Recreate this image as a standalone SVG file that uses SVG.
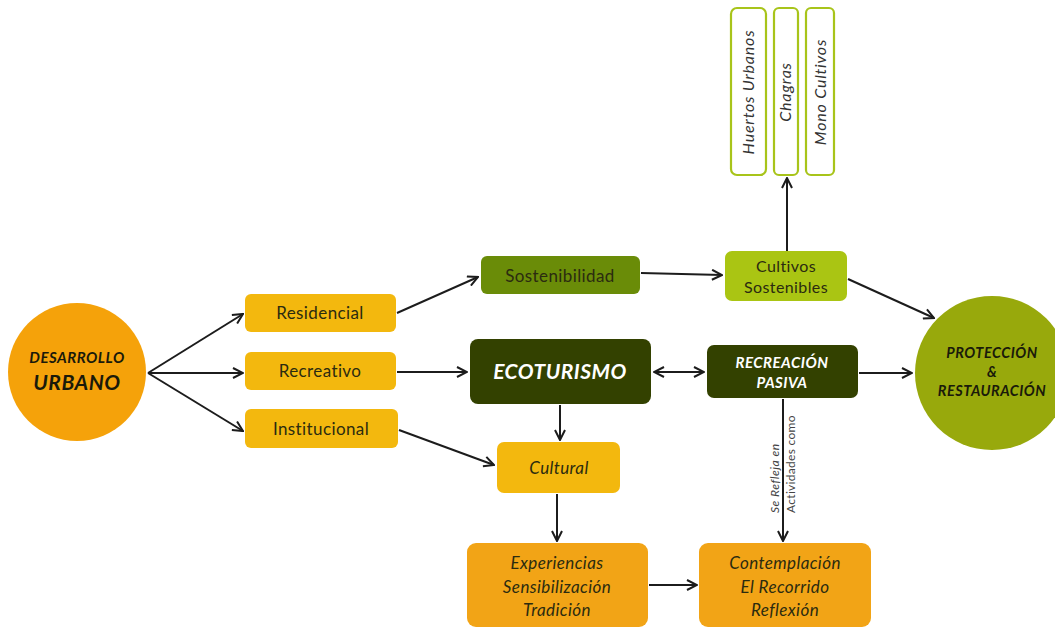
<svg xmlns="http://www.w3.org/2000/svg" width="1055" height="628" viewBox="0 0 1055 628">
<style>
.t{font-family:Lato,"Open Sans",sans-serif;fill:#2b2b10;text-anchor:middle;letter-spacing:0.4px}
.yb{fill:#F3B80E}
.ob{fill:#F2A416}
.dk{fill:#334100}
.wt{font-family:Lato,"Open Sans",sans-serif;fill:#ffffff;font-weight:bold;font-style:italic;text-anchor:middle;letter-spacing:0.5px}
.bt{font-family:Lato,"Open Sans",sans-serif;fill:#1a1a0a;font-weight:bold;font-style:italic;text-anchor:middle;letter-spacing:0.5px}
.vb{fill:#ffffff;stroke:#A8C41A;stroke-width:2.2}
.vt{font-family:Lato,"Open Sans",sans-serif;fill:#333;text-anchor:middle;font-style:italic;font-size:16px;letter-spacing:0.8px}
.c{stroke:#1c1c1c;stroke-width:2;fill:none;marker-end:url(#ah)}
</style>
<defs>
<marker id="ah" viewBox="0 0 12 12" refX="11" refY="6" markerWidth="12" markerHeight="12" markerUnits="userSpaceOnUse" orient="auto-start-reverse">
<path d="M1,1 L11,6 L1,11" fill="none" stroke="#1c1c1c" stroke-width="2"/>
</marker>
</defs>
<rect width="1055" height="628" fill="#ffffff"/>

<g id="connectors">
<line class="c" x1="148" y1="373" x2="243" y2="314"/>
<line class="c" x1="148" y1="373" x2="243" y2="373"/>
<line class="c" x1="148" y1="373" x2="243" y2="431"/>
<line class="c" x1="397" y1="313" x2="478" y2="277"/>
<line class="c" x1="397" y1="372" x2="467" y2="372"/>
<line class="c" x1="399" y1="430" x2="494" y2="465"/>
<line class="c" x1="641" y1="273" x2="722" y2="275"/>
<line class="c" x1="787" y1="251" x2="787" y2="178"/>
<line class="c" x1="848" y1="279" x2="934" y2="318"/>
<line class="c" x1="654" y1="372" x2="704" y2="372" style="marker-start:url(#ah)"/>
<line class="c" x1="859" y1="373" x2="912" y2="373"/>
<line class="c" x1="560" y1="405" x2="560" y2="440"/>
<line class="c" x1="557" y1="494" x2="557" y2="541"/>
<line class="c" x1="649" y1="585" x2="697" y2="585"/>
<line class="c" x1="783" y1="399" x2="783" y2="541"/>
<text transform="translate(779,513) rotate(-90)" font-family="Lato,'Open Sans',sans-serif" font-size="12" font-style="italic" fill="#444" letter-spacing="0.5">Se Refleja en</text>
<text transform="translate(795,513) rotate(-90)" font-family="Lato,'Open Sans',sans-serif" font-size="12" fill="#444" letter-spacing="0.3">Actividades como</text>
</g>

<g id="desarrollo">
<circle cx="77" cy="372" r="69" fill="#F5A20A"/>
<text class="bt" x="77" y="363" font-size="15">DESARROLLO</text>
<text class="bt" x="77" y="390" font-size="21">URBANO</text>
</g>

<g id="residencial">
<rect class="yb" x="245" y="294" width="151" height="38" rx="6"/>
<text class="t" x="320" y="319" font-size="17">Residencial</text>
</g>
<g id="recreativo">
<rect class="yb" x="245" y="352" width="151" height="38" rx="6"/>
<text class="t" x="320" y="377" font-size="17">Recreativo</text>
</g>
<g id="institucional">
<rect class="yb" x="245" y="409" width="153" height="39" rx="6"/>
<text class="t" x="321" y="435" font-size="17">Institucional</text>
</g>

<g id="sostenibilidad">
<rect x="481" y="256" width="159" height="38" rx="6" fill="#6A8C08"/>
<text class="t" x="560" y="282" font-size="17">Sostenibilidad</text>
</g>
<g id="cultivos">
<rect x="725" y="251" width="122" height="50" rx="7" fill="#AAC513"/>
<text class="t" x="786" y="272" font-size="16">Cultivos</text>
<text class="t" x="786" y="293" font-size="16">Sostenibles</text>
</g>

<g id="huertos">
<rect class="vb" x="731" y="8" width="35" height="167" rx="6"/>
<text class="vt" transform="translate(754,92) rotate(-90)">Huertos Urbanos</text>
</g>
<g id="chagras">
<rect class="vb" x="774" y="8" width="24" height="167" rx="5"/>
<text class="vt" transform="translate(791,92) rotate(-90)">Chagras</text>
</g>
<g id="mono">
<rect class="vb" x="806" y="8" width="28" height="167" rx="5"/>
<text class="vt" transform="translate(826,92) rotate(-90)">Mono Cultivos</text>
</g>

<g id="ecoturismo">
<rect class="dk" x="470" y="339" width="181" height="65" rx="8"/>
<text class="wt" x="560" y="379" font-size="21">ECOTURISMO</text>
</g>
<g id="recreacion">
<rect class="dk" x="707" y="345" width="151" height="53" rx="7"/>
<text class="wt" x="782" y="368" font-size="15">RECREACIÓN</text>
<text class="wt" x="782" y="388" font-size="15">PASIVA</text>
</g>

<g id="proteccion">
<circle cx="992" cy="373" r="77" fill="#98A90C"/>
<text class="bt" x="992" y="358" font-size="14.5">PROTECCIÓN</text>
<text class="bt" x="992" y="377" font-size="14.5">&amp;</text>
<text class="bt" x="992" y="396" font-size="14.5">RESTAURACIÓN</text>
</g>

<g id="cultural">
<rect class="yb" x="497" y="442" width="123" height="51" rx="7"/>
<text class="t" x="559" y="474" font-size="17" font-style="italic">Cultural</text>
</g>
<g id="experiencias">
<rect class="ob" x="467" y="543" width="181" height="84" rx="9"/>
<text class="t" x="557" y="569" font-size="17" font-style="italic">Experiencias</text>
<text class="t" x="557" y="593" font-size="17" font-style="italic">Sensibilización</text>
<text class="t" x="557" y="616" font-size="17" font-style="italic">Tradición</text>
</g>
<g id="contemplacion">
<rect class="ob" x="699" y="543" width="172" height="84" rx="9"/>
<text class="t" x="785" y="569" font-size="17" font-style="italic">Contemplación</text>
<text class="t" x="785" y="593" font-size="17" font-style="italic">El Recorrido</text>
<text class="t" x="785" y="616" font-size="17" font-style="italic">Reflexión</text>
</g>
</svg>
